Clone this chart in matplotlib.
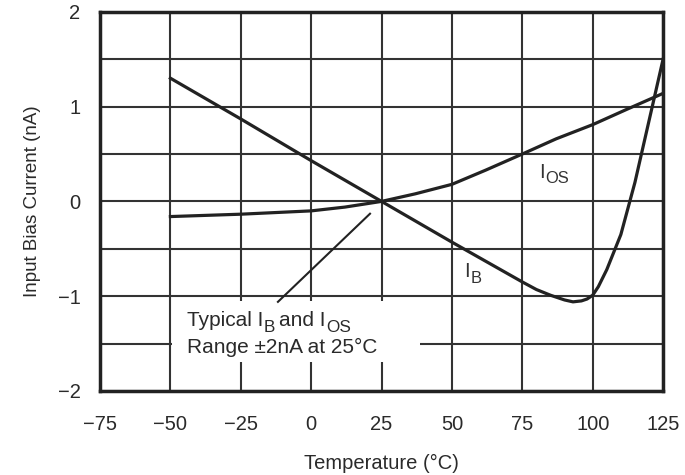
import matplotlib
matplotlib.use('Agg')
import matplotlib.pyplot as plt
from matplotlib.patches import Rectangle
from matplotlib.ticker import MultipleLocator

plt.rcParams['font.family'] = ['Liberation Sans', 'DejaVu Sans']
plt.rcParams['axes.unicode_minus'] = True

# values
temp_ib = [-50, -25, 0, 25, 50, 75, 80, 85, 90, 93, 96, 98, 100, 102, 105, 110, 115, 120, 125]
ib = [1.3, 0.87, 0.43, 0.0, -0.43, -0.85, -0.93, -0.99, -1.04, -1.06, -1.05, -1.03, -0.99, -0.9, -0.72, -0.35, 0.2, 0.85, 1.5]
temp_ios = [-50, -25, 0, 12, 25, 37, 50, 62, 75, 87, 100, 112, 125]
ios = [-0.16, -0.135, -0.1, -0.06, 0.0, 0.08, 0.18, 0.33, 0.5, 0.66, 0.81, 0.97, 1.14]
xticks = [-75, -50, -25, 0, 25, 50, 75, 100, 125]
yticks = [-2, -1, 0, 1, 2]

fig = plt.figure(figsize=(6.85, 4.75), dpi=100)
ax = fig.add_axes([0.146, 0.177, 0.822, 0.798])

line_col = '#222222'
txt_col = '#2a2a2a'
ax.plot(temp_ib, ib, color=line_col, lw=2.3, zorder=3)
ax.plot(temp_ios, ios, color=line_col, lw=2.3, zorder=3)

ax.set_xlim(-75, 125)
ax.set_ylim(-2, 2)
ax.set_xticks(xticks)
ax.set_yticks(yticks)
ax.yaxis.set_minor_locator(MultipleLocator(0.5))
ax.grid(True, which='both', color='#333333', lw=1.5, zorder=1)
ax.tick_params(which='both', length=0, labelsize=14.5, colors=txt_col)
ax.tick_params(axis='x', pad=17)
ax.tick_params(axis='y', pad=14)
for s in ax.spines.values():
    s.set_linewidth(2.5)
    s.set_color('#222222')

ax.set_xlabel('Temperature (°C)', fontsize=14.5, color=txt_col, labelpad=15)
ax.set_ylabel('Input Bias Current (nA)', fontsize=13.5, color=txt_col, labelpad=12)


def sub_label(x, y, main, sub, size=14.5, color='#333333'):
    # main letter, then a slightly smaller subscript dropped below the baseline
    t = ax.text(x, y, main, fontsize=size, color=color, va='baseline', ha='left', zorder=5)
    fig.canvas.draw()
    bb = t.get_window_extent()
    xs, _ = ax.transData.inverted().transform((bb.x1 + 0.5, 0))
    s = ax.annotate(sub, (xs, y), xytext=(0, -4), textcoords='offset points',
                    fontsize=size * 0.82, color=color, va='baseline', ha='left', zorder=5)
    fig.canvas.draw()
    xe, _ = ax.transData.inverted().transform((s.get_window_extent().x1, 0))
    return xe


# labels on the curves
sub_label(81, 0.25, 'I', 'OS')
sub_label(54.5, -0.80, 'I', 'B')

# note box
ax.add_patch(Rectangle((-49.3, -1.69), 88, 0.635, facecolor='white', edgecolor='none', zorder=2))
xe = sub_label(-44.2, -1.32, 'Typical I', 'B', size=15, color=txt_col)
sub_label(xe + 1.6, -1.32, 'and I', 'OS', size=15, color=txt_col)
ax.text(-44.2, -1.60, 'Range ±2nA at 25°C', fontsize=15,
        color=txt_col, va='baseline', ha='left', zorder=5)
ax.plot([20.9, -11.8], [-0.13, -1.06], color=line_col, lw=1.5, zorder=4)

fig.savefig('out.png', dpi=100)
